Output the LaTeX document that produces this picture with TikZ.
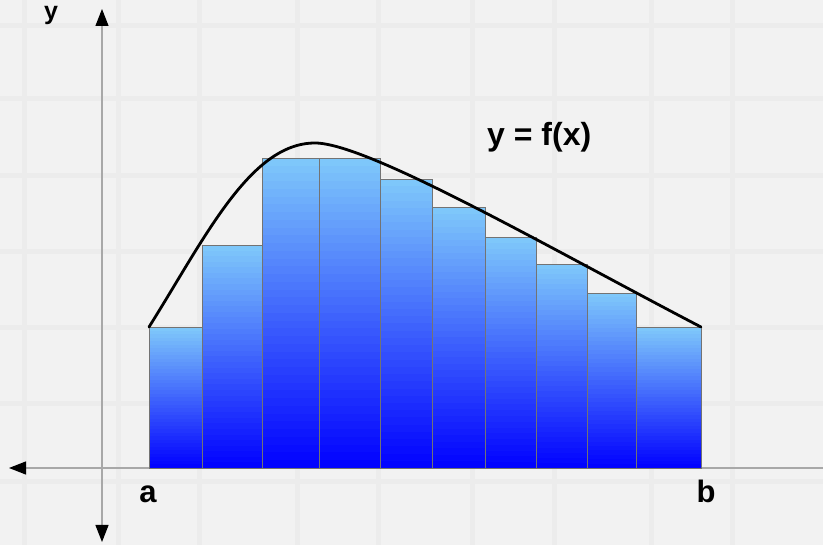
\documentclass[tikz,border=0pt]{standalone}
\usepackage{fontspec}
\setmainfont{Liberation Sans}
\usetikzlibrary{arrows.meta}
\definecolor{bg}{HTML}{F2F2F2}
\definecolor{gridc}{HTML}{ECECEC}
\definecolor{skyb}{RGB}{128,202,250}
\definecolor{deepb}{RGB}{0,0,255}
\definecolor{axisc}{HTML}{A8A8A8}
\tikzset{
  gridline/.style={draw=gridc,line width=5pt},
  axisline/.style={draw=axisc,line width=1.1pt,-{Triangle[length=17pt,width=13pt,color=black]}},
  barborder/.style={draw=black!55,line width=0.6pt},
  curvestyle/.style={draw=black,line width=2.8pt,line cap=round,line join=round},
  lbl/.style={font=\fontsize{31}{31}\selectfont\bfseries,inner sep=0pt,anchor=base},
}
\begin{document}
\begin{tikzpicture}[x=1pt,y=-1pt]
\useasboundingbox[fill=bg] (0,0) rectangle (823,545);
% grid
\foreach \gx in {24,118,199,297,378,472,554,651,732}
  \draw[gridline] (\gx,0) -- (\gx,545);
\foreach \gy in {26,99,176,252,328,404,482}
  \draw[gridline] (0,\gy) -- (823,\gy);
% axes
\coordinate (origin) at (102,468);
\coordinate (xright) at (823,468);
\coordinate (xleft) at (9,468);
\coordinate (ytop) at (102,9);
\coordinate (ybot) at (102,542);
\draw[axisline,-] (xright) -- (origin);
\draw[axisline] (origin) -- (xleft);
\draw[axisline] (origin) -- (ytop);
\draw[axisline] (origin) -- (ybot);
% bars with vertical gradient built from thin strips
\foreach \xa/\xb/\ht in {149/202/327,202/262/245,262/319/158,319/380/158,380/432/179,432/485/207,485/536/237,536/587/264,587/636/293,636/701/327}{
  \foreach \i in {0,...,39}{
    \pgfmathsetmacro\ya{\ht+(468-\ht)*\i/40}
    \pgfmathsetmacro\yb{min(468,\ht+(468-\ht)*(\i+1)/40+0.8)}
    \pgfmathsetmacro\pc{100-100*(\i+0.5)/40}
    \fill[skyb!\pc!deepb] (\xa,\ya) rectangle (\xb,\yb);
  }
  \draw[barborder] (\xa,468) rectangle (\xb,\ht);
}
% curve
\coordinate (cstart) at (149,327);
\coordinate (cpeak) at (315,143);
\coordinate (cend) at (701,327);
\draw[curvestyle] (cstart) .. controls (205,238) and (250,143) .. (cpeak)
  .. controls (368,143) and (553,250) .. (cend);
% labels
\node[lbl,anchor=base west,font=\fontsize{32}{32}\selectfont\bfseries] (fx) at (487,146) {y = f(x)};
\node[lbl] (la) at (148,503) {a};
\node[lbl] (lb) at (706,503) {b};
\node[lbl,font=\fontsize{25}{25}\selectfont\bfseries] (ly) at (51,20) {y};
\end{tikzpicture}
\end{document}
